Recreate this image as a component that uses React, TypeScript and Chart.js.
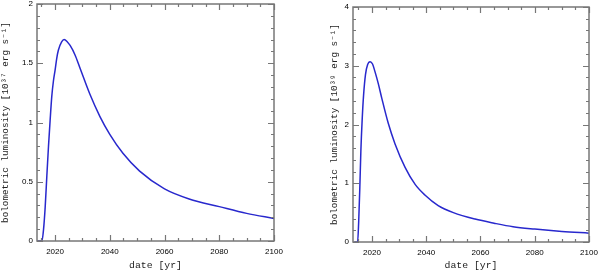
import React, { useEffect, useRef } from "react";
import { Chart, registerables } from "chart.js";

Chart.register(...registerables);

// Left panel (10^37 erg s^-1)
const years1 = [2013.5, 2014.5, 2015.2, 2015.8, 2016.4, 2017, 2017.6, 2018.2, 2018.8, 2019.4, 2020, 2020.6, 2021.2, 2022.4, 2023.3, 2024.5, 2025.5, 2027.3, 2029.1, 2032.7, 2036.4, 2040, 2044.8, 2050.9, 2060, 2069, 2080, 2090, 2100];
const lum1 = [0, 0, 0, 0.1, 0.29, 0.55, 0.8, 1.02, 1.22, 1.35, 1.44, 1.54, 1.61, 1.68, 1.7, 1.68, 1.65, 1.57, 1.46, 1.24, 1.05, 0.9, 0.74, 0.59, 0.44, 0.355, 0.29, 0.233, 0.19];

// Right panel (10^39 erg s^-1)
const years2 = [2013.5, 2014.7, 2015.1, 2015.5, 2015.9, 2016.4, 2016.9, 2017.6, 2018.4, 2019.3, 2020.2, 2021.1, 2022.3, 2023.6, 2026, 2028.5, 2032.2, 2035.9, 2039.5, 2044.4, 2050, 2058, 2065, 2072, 2080, 2090, 2100];
const lum2 = [0, 0, 0.35, 0.9, 1.55, 2.1, 2.5, 2.85, 3.02, 3.07, 3.03, 2.9, 2.7, 2.45, 2.02, 1.67, 1.27, 0.98, 0.8, 0.62, 0.5, 0.39, 0.32, 0.26, 0.22, 0.18, 0.15];

const xMajorTicks = [2020, 2040, 2060, 2080, 2100];
const yMajorTicks1 = [0, 0.5, 1, 1.5, 2];
const yMajorTicks2 = [0, 1, 2, 3, 4];

const xTitle = "date [yr]";
const yTitle1 = "bolometric luminosity [10\u00B3\u2077 erg s\u207B\u00B9]";
const yTitle2 = "bolometric luminosity [10\u00B3\u2079 erg s\u207B\u00B9]";

const LINE_COLOR = "rgb(40,40,205)";
const FRAME_COLOR = "#777";
const TITLE_FONT = "'Liberation Mono', 'DejaVu Sans Mono', monospace";
const TICK_FONT = "'Liberation Sans', Arial, sans-serif";

type PanelCfg = {
  xs: number[];
  ys: number[];
  xMin: number;
  xMax: number;
  yMin: number;
  yMax: number;
  yMajor: number[];
  xMinorStep: number;
  yMinorStep: number;
  yTitle: string;
  pad: { left: number; right: number; top: number; bottom: number };
  yWidth: number;
  xHeight: number;
};

function makeFramePlugin(cfg: PanelCfg) {
  return {
    id: "frameTicks",
    afterDraw(chart: any) {
      const { ctx, chartArea } = chart;
      const { left, right, top, bottom } = chartArea;
      const x = chart.scales.x;
      const y = chart.scales.y;
      ctx.save();
      ctx.strokeStyle = FRAME_COLOR;
      ctx.lineWidth = 1.2;
      ctx.beginPath();
      const eps = 1e-6;
      for (let v = Math.ceil(cfg.xMin / cfg.xMinorStep) * cfg.xMinorStep; v <= cfg.xMax + eps; v += cfg.xMinorStep) {
        const major = xMajorTicks.some((m) => Math.abs(m - v) < eps);
        const len = major ? 6 : 3;
        const px = Math.round(x.getPixelForValue(v)) + 0.5;
        ctx.moveTo(px, bottom);
        ctx.lineTo(px, bottom - len);
        ctx.moveTo(px, top);
        ctx.lineTo(px, top + len);
      }
      for (let v = cfg.yMin; v <= cfg.yMax + eps; v += cfg.yMinorStep) {
        const major = cfg.yMajor.some((m) => Math.abs(m - v) < eps);
        const len = major ? 6 : 3;
        const py = Math.round(y.getPixelForValue(v)) + 0.5;
        ctx.moveTo(left, py);
        ctx.lineTo(left + len, py);
        ctx.moveTo(right, py);
        ctx.lineTo(right - len, py);
      }
      ctx.stroke();
      ctx.lineWidth = 1.5;
      ctx.strokeRect(left, top, right - left, bottom - top);
      ctx.restore();
    },
  };
}

function Panel({ cfg, offset }: { cfg: PanelCfg; offset: number }) {
  const ref = useRef<HTMLCanvasElement | null>(null);
  useEffect(() => {
    if (!ref.current) return;
    const data = cfg.xs.map((xv, i) => ({ x: xv, y: cfg.ys[i] }));
    const chart = new Chart(ref.current, {
      type: "line",
      data: {
        datasets: [
          {
            data,
            borderColor: LINE_COLOR,
            borderWidth: 1.5,
            pointRadius: 0,
            fill: false,
            cubicInterpolationMode: "monotone",
          },
        ],
      },
      options: {
        animation: false,
        responsive: false,
        devicePixelRatio: 1,
        layout: { padding: cfg.pad },
        plugins: { legend: { display: false }, tooltip: { enabled: false } },
        scales: {
          x: {
            type: "linear",
            min: cfg.xMin,
            max: cfg.xMax,
            grid: { display: false, drawTicks: false },
            border: { display: false },
            afterBuildTicks: (s: any) => {
              s.ticks = xMajorTicks.map((v) => ({ value: v }));
            },
            afterFit: (s: any) => {
              s.height = cfg.xHeight;
              s.paddingLeft = 0;
              s.paddingRight = 0;
            },
            ticks: {
              autoSkip: false,
              maxRotation: 0,
              padding: 6,
              color: "#000",
              font: { family: TICK_FONT, size: 8 },
              callback: (v: any) => String(v),
            },
            title: {
              display: true,
              text: xTitle,
              color: "#222",
              font: { family: TITLE_FONT, size: 9.8 },
              padding: { top: 0, bottom: 0 },
            },
          },
          y: {
            type: "linear",
            min: cfg.yMin,
            max: cfg.yMax,
            grid: { display: false, drawTicks: false },
            border: { display: false },
            afterBuildTicks: (s: any) => {
              s.ticks = cfg.yMajor.map((v) => ({ value: v }));
            },
            afterFit: (s: any) => {
              s.width = cfg.yWidth;
              s.paddingTop = 0;
              s.paddingBottom = 0;
            },
            ticks: {
              autoSkip: false,
              padding: 4,
              color: "#000",
              font: { family: TICK_FONT, size: 8 },
              callback: (v: any) => String(v),
            },
            title: {
              display: true,
              text: cfg.yTitle,
              color: "#222",
              font: { family: TITLE_FONT, size: 9.3 },
              padding: { top: 0, bottom: 0 },
            },
          },
        },
      },
      plugins: [makeFramePlugin(cfg)],
    } as any);
    return () => chart.destroy();
  }, []);
  return (
    <canvas
      ref={ref}
      width={300}
      height={271}
      style={{ position: "absolute", left: offset, top: 0, width: 300, height: 271 }}
    />
  );
}

const leftCfg: PanelCfg = {
  xs: years1,
  ys: lum1,
  xMin: 2013.4,
  xMax: 2100,
  yMin: 0,
  yMax: 2,
  yMajor: yMajorTicks1,
  xMinorStep: 5,
  yMinorStep: 0.1,
  yTitle: yTitle1,
  pad: { left: 0, right: 26, top: 4, bottom: 0 },
  yWidth: 37,
  xHeight: 30,
};

const rightCfg: PanelCfg = {
  xs: years2,
  ys: lum2,
  xMin: 2013,
  xMax: 2100,
  yMin: 0,
  yMax: 4,
  yMajor: yMajorTicks2,
  xMinorStep: 5,
  yMinorStep: 0.2,
  yTitle: yTitle2,
  pad: { left: 29, right: 11, top: 7, bottom: 0 },
  yWidth: 24,
  xHeight: 29,
};

export default function App() {
  return (
    <div style={{ position: "fixed", left: 0, top: 0, width: 600, height: 271, background: "#fff" }}>
      <Panel cfg={leftCfg} offset={0} />
      <Panel cfg={rightCfg} offset={300} />
    </div>
  );
}
